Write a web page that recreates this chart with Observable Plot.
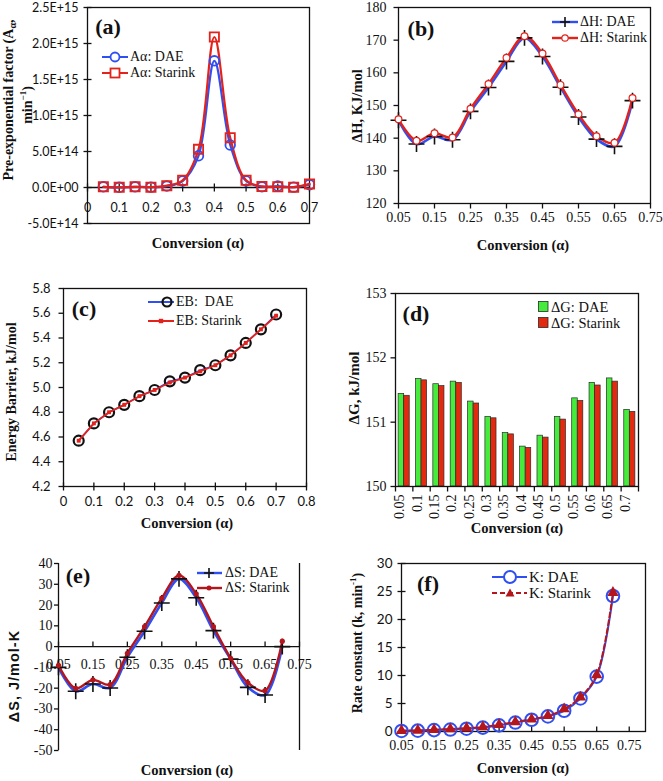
<!DOCTYPE html>
<html><head><meta charset="utf-8">
<script src="https://cdn.jsdelivr.net/npm/d3@7"></script>
<script src="https://cdn.jsdelivr.net/npm/@observablehq/plot@0.6"></script>
<style>
body{margin:0;background:#fff;}
#root{position:relative;width:663px;height:781px;overflow:hidden;background:#fff;font-family:"Liberation Serif","Times New Roman",serif;color:#111;}
.t{position:absolute;white-space:nowrap;transform:translate(-50%,-50%);font-weight:bold;line-height:1;}
.r{transform:translate(-50%,-50%) rotate(-90deg);}
.lg{position:absolute;display:flex;align-items:center;white-space:pre;height:20px;line-height:1;}
.lg svg{flex:none;}
</style></head><body><div id="root"></div>
<script>
// ---------------- data ----------------
const alpha = [0.05,0.1,0.15,0.2,0.25,0.3,0.35,0.4,0.45,0.5,0.55,0.6,0.65,0.7];
const alphaLabels = ["0.05","0.1","0.15","0.2","0.25","0.3","0.35","0.4","0.45","0.5","0.55","0.6","0.65","0.7"];

// (a) pre-exponential factor
const aDAE     = [1e13,3e12,1e13,5e12,2e13,9e13,4.4e14,1.76e15,5.9e14,9e13,1e13,2e13,5e12,4e13];
const aStarink = [1e13,3e12,1e13,5e12,2.5e13,1.0e14,5.3e14,2.09e15,6.9e14,1.0e14,1.5e13,1e13,5e12,5e13];
const xTicksA = [0,0.1,0.2,0.3,0.4,0.5,0.6,0.7];
const xLabelsA = ["0","0.1","0.2","0.3","0.4","0.5","0.6","0.7"];
const yTicksA = [-5e14,0,5e14,1e15,1.5e15,2e15,2.5e15];
const yLabelsA = ["-5.0E+14","0.0E+00","5.0E+14","1.0E+15","1.5E+15","2.0E+15","2.5E+15"];

// (b) enthalpy
const hDAE     = [145.5,138.2,140.5,139.5,148.2,155.5,163.5,170.7,165.0,155.6,146.5,139.7,137.5,151.5];
const hStarink = [145.8,139.2,141.5,140.2,149.0,156.6,164.6,171.2,165.9,156.3,147.3,140.6,138.6,152.3];
const xTicksB = [0.05,0.15,0.25,0.35,0.45,0.55,0.65,0.75];
const xLabelsB = ["0.05","0.15","0.25","0.35","0.45","0.55","0.65","0.75"];
const yTicksB = [120,130,140,150,160,170,180];
const yLabelsB = ["120","130","140","150","160","170","180"];

// (c) energy barrier
const ebDAE     = [4.57,4.71,4.80,4.86,4.93,4.98,5.05,5.08,5.14,5.18,5.26,5.36,5.47,5.59];
const ebStarink = [4.57,4.71,4.80,4.86,4.93,4.98,5.04,5.08,5.13,5.18,5.26,5.36,5.47,5.58];
const xTicksC = [0,0.1,0.2,0.3,0.4,0.5,0.6,0.7,0.8];
const xLabelsC = ["0","0.1","0.2","0.3","0.4","0.5","0.6","0.7","0.8"];
const yTicksC = [4.2,4.4,4.6,4.8,5.0,5.2,5.4,5.6,5.8];
const yLabelsC = ["4.2","4.4","4.6","4.8","5.0","5.2","5.4","5.6","5.8"];

// (d) Gibbs free energy
const gDAE     = [151.44,151.67,151.59,151.63,151.32,151.08,150.83,150.62,150.79,151.08,151.37,151.61,151.68,151.19];
const gStarink = [151.41,151.65,151.56,151.61,151.29,151.06,150.81,150.60,150.76,151.04,151.33,151.57,151.63,151.16];
const yTicksD = [150,151,152,153];
const yLabelsD = ["150","151","152","153"];

// (e) entropy
const sDAE     = [-10,-21.5,-18,-19.9,-5.1,7.4,21,32.6,23.5,7.7,-6,-19.6,-23.3,0];
const sStarink = [-9,-20.1,-16,-18.3,-3.2,9.6,23.3,34.3,25.4,9.6,-5.6,-17.4,-21.2,2.6];
const xTicksE = [0.05,0.15,0.25,0.35,0.45,0.55,0.65,0.75];
const xLabelsE = ["0.05","0.15","0.25","0.35","0.45","0.55","0.65","0.75"];
const yTicksE = [-50,-40,-30,-20,-10,0,10,20,30,40];
const yLabelsE = ["-50","-40","-30","-20","-10","0","10","20","30","40"];

// (f) rate constant
const kDAE     = [0.1,0.15,0.25,0.35,0.5,0.7,1.1,1.6,2.1,2.7,3.7,5.9,9.8,24.2];
const kStarink = [0.15,0.2,0.3,0.45,0.6,0.8,1.2,1.7,2.2,2.8,4.0,6.1,10.1,24.8];
const xTicksF = [0.05,0.15,0.25,0.35,0.45,0.55,0.65,0.75];
const xLabelsF = ["0.05","0.15","0.25","0.35","0.45","0.55","0.65","0.75"];
const yTicksF = [0,5,10,15,20,25,30];
const yLabelsF = ["0","5","10","15","20","25","30"];

// ---------------- styling ----------------
const SANS = "Lato, 'Open Sans', sans-serif";
const SERIF = "'Liberation Serif', 'Times New Roman', serif";
const BLUE = "#2f4ff2", RED = "#e3231b", DRED = "#b3161c", GREEN = "#46ec3c", BRED = "#e22a10", INK = "#111";

const seg = (x1,y1,x2,y2) => ({draw(ctx,size){const r=Math.sqrt(size/Math.PI);ctx.moveTo(x1*r,y1*r);ctx.lineTo(x2*r,y2*r);}});
const hCross = seg(-1,0,1,0), hOut = seg(-1,0,0,0), vCross = seg(0,-1,0,1), vUp = seg(0,-1,0,0), vDown = seg(0,0,0,1);

const root = document.getElementById("root");
function place(svg, left, top){
  svg.style.position = "absolute"; svg.style.left = left+"px"; svg.style.top = top+"px";
  svg.style.background = "transparent"; svg.style.overflow = "visible";
  root.appendChild(svg);
}
function label(html, x, y, size, rot, family, extra){
  const d = document.createElement("div");
  d.className = "t" + (rot ? " r" : "");
  d.style.left = x+"px"; d.style.top = y+"px"; d.style.fontSize = size+"px";
  if (family) d.style.fontFamily = family;
  if (extra) Object.assign(d.style, extra);
  d.innerHTML = html; root.appendChild(d);
}
function legendRow(x, y, w, inner, text, fs, gap){
  const d = document.createElement("div");
  d.className = "lg"; d.style.left = x+"px"; d.style.top = (y-10)+"px"; d.style.fontSize = fs+"px";
  d.innerHTML = `<svg width="${w}" height="20">${inner}</svg><span style="margin-left:${gap}px">${text}</span>`;
  root.appendChild(d);
}
const ln = (w,c,sw,dash) => `<line x1="0" y1="10" x2="${w}" y2="10" stroke="${c}" stroke-width="${sw}" ${dash?`stroke-dasharray="${dash}"`:""}/>`;
const circ = (cx,r,c,f,sw) => `<circle cx="${cx}" cy="10" r="${r}" stroke="${c}" fill="${f}" stroke-width="${sw}"/>`;
const sq = (cx,h,c,f,sw) => `<rect x="${cx-h}" y="${10-h}" width="${2*h}" height="${2*h}" stroke="${c}" fill="${f}" stroke-width="${sw}"/>`;
const plus = (cx,h,c,sw) => `<path d="M${cx-h},10H${cx+h}M${cx},${10-h}V${10+h}" stroke="${c}" stroke-width="${sw}"/>`;
const tri = (cx,h,c) => `<path d="M${cx},${10-h}L${cx+h},${10+h*0.75}L${cx-h},${10+h*0.75}Z" fill="${c}"/>`;

const X = (d,i) => alpha[i], Y = d => d, ZERO = () => 0;

// ---------------- (a) ----------------
place(Plot.plot({
  width:330, height:250, marginLeft:87, marginRight:21, marginTop:7, marginBottom:27,
  x:{domain:[0,0.7], axis:null}, y:{domain:[-5e14,2.5e15], axis:null},
  marks:[
    Plot.ruleY([0], {stroke:INK, strokeWidth:1.3}),
    Plot.frame({stroke:INK, strokeWidth:1.3}),
    Plot.dot(yTicksA, {y:Y, frameAnchor:"left", symbol:hCross, r:4, stroke:INK, fill:"none", strokeWidth:1.3}),
    Plot.text(yTicksA, {y:Y, frameAnchor:"left", text:(d,i)=>yLabelsA[i], textAnchor:"end", dx:-9, fontSize:12.5, fontFamily:SANS, fill:INK}),
    Plot.dot(xTicksA, {x:Y, y:ZERO, symbol:vCross, r:4, stroke:INK, fill:"none", strokeWidth:1.3}),
    Plot.text(xTicksA, {x:Y, y:ZERO, dy:20, text:(d,i)=>xLabelsA[i], fontSize:12.5, fontFamily:SANS, fill:INK}),
    Plot.line(aDAE, {x:X, y:Y, curve:"catmull-rom", stroke:BLUE, strokeWidth:2.2}),
    Plot.line(aStarink, {x:X, y:Y, curve:"catmull-rom", stroke:RED, strokeWidth:2.2}),
    Plot.dot(aDAE, {x:X, y:Y, symbol:"circle", r:4.8, stroke:BLUE, fill:"none", strokeWidth:1.8}),
    Plot.dot(aStarink, {x:X, y:Y, symbol:"square", r:5.2, stroke:RED, fill:"none", strokeWidth:1.8})
  ]
}), 0, 0);
label("(a)", 108, 27, 22);
label("Pre-exponential factor (A<sub style='font-size:10px'>α</sub>,", 10, 100, 14, true);
label("min<sup style='font-size:9px'>−1</sup>)", 27, 105, 14, true);
label("Conversion (α)", 198, 243, 14.5);
legendRow(102, 57, 26, ln(26,BLUE,2)+circ(13,4.5,BLUE,"white",1.8), "Aα: DAE", 14, 2);
legendRow(102, 73, 26, ln(26,RED,2)+sq(13,4.5,RED,"white",1.8), "Aα: Starink", 14, 2);

// ---------------- (b) ----------------
place(Plot.plot({
  width:333, height:250, marginLeft:68, marginRight:13, marginTop:7, marginBottom:47,
  x:{domain:[0.05,0.75], axis:null}, y:{domain:[120,180], axis:null},
  marks:[
    Plot.frame({stroke:INK, strokeWidth:1.3}),
    Plot.dot(yTicksB, {y:Y, frameAnchor:"left", symbol:hOut, r:5, stroke:INK, fill:"none", strokeWidth:1.3}),
    Plot.text(yTicksB, {y:Y, frameAnchor:"left", text:(d,i)=>yLabelsB[i], textAnchor:"end", dx:-12, fontSize:14, fontFamily:SERIF, fill:INK}),
    Plot.dot(xTicksB, {x:Y, frameAnchor:"bottom", symbol:vDown, r:5, stroke:INK, fill:"none", strokeWidth:1.3}),
    Plot.text(xTicksB, {x:Y, frameAnchor:"bottom", dy:18, text:(d,i)=>xLabelsB[i], fontSize:14, fontFamily:SERIF, fill:INK}),
    Plot.line(hDAE, {x:X, y:Y, curve:"catmull-rom", stroke:BLUE, strokeWidth:2.6}),
    Plot.line(hStarink, {x:X, y:Y, curve:"catmull-rom", stroke:RED, strokeWidth:2.4}),
    Plot.dot(hDAE, {x:X, y:Y, symbol:"plus", r:5.2, stroke:INK, strokeWidth:1.6}),
    Plot.dot(hStarink, {x:X, y:Y, symbol:"circle", r:3.4, stroke:RED, fill:"white", strokeWidth:1.2})
  ]
}), 330, 0);
label("(b)", 421, 29, 22);
label("ΔH, KJ/mol", 357, 106, 14.5, true);
label("Conversion (α)", 523, 245, 14.5);
legendRow(552, 22, 26, ln(26,BLUE,2.4)+plus(13,5,INK,1.6), "ΔH: DAE", 14, 2);
legendRow(552, 38, 26, ln(26,RED,2.4)+circ(13,3.2,RED,"white",1.2), "ΔH: Starink", 14, 2);

// ---------------- (c) ----------------
place(Plot.plot({
  width:330, height:260, marginLeft:63, marginRight:24, marginTop:28, marginBottom:34,
  x:{domain:[0,0.8], axis:null}, y:{domain:[4.2,5.8], axis:null},
  marks:[
    Plot.frame({stroke:INK, strokeWidth:1.3}),
    Plot.dot(yTicksC, {y:Y, frameAnchor:"left", symbol:hOut, r:5, stroke:INK, fill:"none", strokeWidth:1.3}),
    Plot.text(yTicksC, {y:Y, frameAnchor:"left", text:(d,i)=>yLabelsC[i], textAnchor:"end", dx:-13, fontSize:13, fontFamily:SANS, fill:INK}),
    Plot.dot(xTicksC, {x:Y, frameAnchor:"bottom", symbol:vCross, r:4, stroke:INK, fill:"none", strokeWidth:1.3}),
    Plot.text(xTicksC, {x:Y, frameAnchor:"bottom", dy:19, text:(d,i)=>xLabelsC[i], fontSize:13, fontFamily:SANS, fill:INK}),
    Plot.line(ebDAE, {x:X, y:Y, stroke:BLUE, strokeWidth:1.6}),
    Plot.dot(ebDAE, {x:X, y:Y, symbol:"circle", r:5, stroke:INK, fill:"none", strokeWidth:2.2}),
    Plot.line(ebStarink, {x:X, y:Y, stroke:RED, strokeWidth:1.8}),
    Plot.dot(ebStarink, {x:X, y:Y, symbol:"square", r:2.2, fill:RED, stroke:"none"})
  ]
}), 0, 260);
label("(c)", 84, 309, 22);
label("Energy Barrier, kJ/mol", 12, 392, 14, true);
label("Conversion (α)", 187, 523, 14.5);
legendRow(148, 302, 26, ln(26,BLUE,2)+circ(19,4.5,INK,"none",2.2), "EB:  DAE", 14, 2);
legendRow(148, 321, 26, ln(26,RED,2)+sq(13,2.2,RED,RED,0), "EB: Starink", 14, 2);

// ---------------- (d) ----------------
place(Plot.plot({
  width:333, height:260, marginLeft:65, marginRight:25, marginTop:33, marginBottom:34,
  x:{domain:[0,14], axis:null}, y:{domain:[150,153], axis:null},
  marks:[
    Plot.rect(gDAE, {x1:(d,i)=>i+0.18, x2:(d,i)=>i+0.5, y1:()=>150, y2:Y, fill:GREEN, stroke:"#2a2a2a", strokeWidth:0.7}),
    Plot.rect(gStarink, {x1:(d,i)=>i+0.5, x2:(d,i)=>i+0.82, y1:()=>150, y2:Y, fill:BRED, stroke:"#2a2a2a", strokeWidth:0.7}),
    Plot.frame({stroke:INK, strokeWidth:1.3}),
    Plot.dot(yTicksD, {y:Y, frameAnchor:"left", symbol:hOut, r:5, stroke:INK, fill:"none", strokeWidth:1.3}),
    Plot.text(yTicksD, {y:Y, frameAnchor:"left", text:(d,i)=>yLabelsD[i], textAnchor:"end", dx:-9, fontSize:14, fontFamily:SERIF, fill:INK}),
    Plot.dot(d3.range(alpha.length+1), {x:Y, frameAnchor:"bottom", symbol:vDown, r:5, stroke:INK, fill:"none", strokeWidth:1.3}),
    Plot.text(alphaLabels, {x:(d,i)=>i+0.5, frameAnchor:"bottom", dy:8, rotate:-90, textAnchor:"end", text:d=>d, fontSize:14, fontFamily:SERIF, fill:INK})
  ]
}), 330, 260);
label("(d)", 416, 314, 22);
label("ΔG, kJ/mol", 354, 388, 15, true);
label("Conversion (α)", 517, 528, 14.5);
legendRow(538, 307, 11, `<rect x="0.5" y="4.5" width="9.5" height="10" fill="${GREEN}" stroke="#2a2a2a" stroke-width="0.8"/>`, "ΔG: DAE", 14.5, 2);
legendRow(538, 323, 11, `<rect x="0.5" y="4.5" width="9.5" height="10" fill="${BRED}" stroke="#2a2a2a" stroke-width="0.8"/>`, "ΔG: Starink", 14.5, 2);

// ---------------- (e) ----------------
const xDomE = [0.05,0.75];
place(Plot.plot({
  width:330, height:251, marginLeft:58, marginRight:31, marginTop:33, marginBottom:31,
  x:{domain:xDomE, axis:null}, y:{domain:[-50,40], axis:null},
  marks:[
    Plot.ruleX(xDomE, {stroke:INK, strokeWidth:1.3}),
    Plot.ruleY([0], {stroke:INK, strokeWidth:1.3}),
    Plot.dot(yTicksE, {y:Y, frameAnchor:"left", symbol:hOut, r:4.5, stroke:INK, fill:"none", strokeWidth:1.3}),
    Plot.text(yTicksE, {y:Y, frameAnchor:"left", text:(d,i)=>yLabelsE[i], textAnchor:"end", dx:-6, fontSize:14, fontFamily:SERIF, fill:INK}),
    Plot.dot(xTicksE, {x:Y, y:ZERO, symbol:vUp, r:5, stroke:INK, fill:"none", strokeWidth:1.3}),
    Plot.text(xTicksE, {x:Y, y:ZERO, dy:18, text:(d,i)=>xLabelsE[i], fontSize:14, fontFamily:SERIF, fill:INK}),
    Plot.line(sDAE, {x:X, y:Y, curve:"catmull-rom", stroke:BLUE, strokeWidth:2.6}),
    Plot.line(sStarink, {x:X, y:Y, curve:"catmull-rom", stroke:DRED, strokeWidth:2.4}),
    Plot.dot(sDAE, {x:X, y:Y, symbol:"plus", r:5.2, stroke:INK, strokeWidth:1.6}),
    Plot.dot(sStarink, {x:X, y:Y, symbol:"circle", r:2.6, fill:DRED, stroke:"none"})
  ]
}), 0, 530);
label("(e)", 78, 576, 22);
label("ΔS, J/mol-K", 14, 676, 14.5, true, "'Liberation Sans', Arial, sans-serif", {letterSpacing:"1px"});
label("Conversion (α)", 187, 770, 14.5);
legendRow(197, 573, 25, ln(25,BLUE,2.4)+plus(12,5,INK,1.6), "ΔS: DAE", 14, 3);
legendRow(197, 588, 25, ln(25,DRED,2.4)+circ(12,2.5,DRED,DRED,0), "ΔS: Starink", 14, 3);

// ---------------- (f) ----------------
place(Plot.plot({
  width:333, height:251, marginLeft:71, marginRight:18, marginTop:33, marginBottom:50,
  x:{domain:[0.05,0.8], axis:null}, y:{domain:[0,30], axis:null},
  marks:[
    Plot.frame({stroke:INK, strokeWidth:1.3}),
    Plot.dot(yTicksF, {y:Y, frameAnchor:"left", symbol:hCross, r:4, stroke:INK, fill:"none", strokeWidth:1.3}),
    Plot.text(yTicksF, {y:Y, frameAnchor:"left", text:(d,i)=>yLabelsF[i], textAnchor:"end", dx:-9, fontSize:13.5, fontFamily:SANS, fill:INK}),
    Plot.dot(xTicksF, {x:Y, frameAnchor:"bottom", symbol:vUp, r:5, stroke:INK, fill:"none", strokeWidth:1.3}),
    Plot.text(xTicksF, {x:Y, frameAnchor:"bottom", dy:18, text:(d,i)=>xLabelsF[i], fontSize:14, fontFamily:SERIF, fill:INK}),
    Plot.line(kDAE, {x:X, y:Y, curve:"catmull-rom", stroke:BLUE, strokeWidth:2}),
    Plot.dot(kDAE, {x:X, y:Y, symbol:"circle", r:6.3, stroke:BLUE, fill:"none", strokeWidth:2}),
    Plot.line(kStarink, {x:X, y:Y, curve:"catmull-rom", stroke:DRED, strokeWidth:2, strokeDasharray:"5,3"}),
    Plot.dot(kStarink, {x:X, y:Y, symbol:"triangle", r:4.2, fill:DRED, stroke:"none"})
  ]
}), 330, 530);
label("(f)", 428, 584, 22);
label("Rate constant (k, min<sup style='font-size:9px'>-1</sup>)", 357, 643, 14, true);
label("Conversion (α)", 523, 768, 14.5);
legendRow(492, 577, 35, ln(35,BLUE,2)+circ(18,6,BLUE,"white",2), "K: DAE", 15, 2);
legendRow(492, 593, 35, ln(35,DRED,2,"5,3")+tri(18,4.5,DRED), "K: Starink", 15, 2);
</script></body></html>
